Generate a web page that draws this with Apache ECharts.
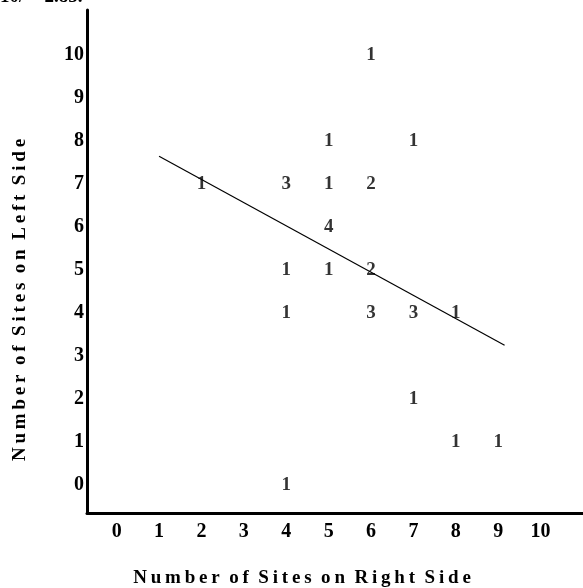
<!DOCTYPE html>
<html>
<head>
<meta charset="utf-8">
<script src="https://cdn.jsdelivr.net/npm/echarts@6/dist/echarts.min.js"></script>
<style>
  html, body { margin: 0; padding: 0; background: #fff; }
  #chart { width: 583px; height: 588px; }
</style>
</head>
<body>
<div id="chart"></div>
<script>
// counts of sites: [right side, left side, number of cases]
const cells = [
  [6, 10, 1],
  [5, 8, 1], [7, 8, 1],
  [2, 7, 1], [4, 7, 3], [5, 7, 1], [6, 7, 2],
  [5, 6, 4],
  [4, 5, 1], [5, 5, 1], [6, 5, 2],
  [4, 4, 1], [6, 4, 3], [7, 4, 3], [8, 4, 1],
  [7, 2, 1],
  [8, 1, 1], [9, 1, 1],
  [4, 0, 1]
];
// fitted line end points
const fitX = [1, 9.15];
const fitY = [7.65, 3.25];
const xTicks = [0, 1, 2, 3, 4, 5, 6, 7, 8, 9, 10];
const yTicks = [0, 1, 2, 3, 4, 5, 6, 7, 8, 9, 10];

const serif = '"Liberation Serif", "DejaVu Serif", serif';
const spaced = (s) => s.split(' ').map(w => w.split('').join('\u2009')).join('\u2002');

const chart = echarts.init(document.getElementById('chart'));
chart.setOption({
  animation: false,
  grid: { left: 87, right: 0, top: 10, bottom: 75 },
  xAxis: {
    type: 'value',
    min: -0.7,
    max: 11,
    axisLine: { show: true, onZero: false, lineStyle: { color: '#000', width: 3 } },
    axisTick: { show: false },
    splitLine: { show: false },
    axisLabel: {
      customValues: xTicks,
      margin: 9,
      color: '#000',
      fontFamily: serif,
      fontWeight: 'bold',
      fontSize: 20
    }
  },
  yAxis: {
    type: 'value',
    min: -0.65,
    max: 11.05,
    axisLine: { show: true, onZero: false, lineStyle: { color: '#000', width: 3 } },
    axisTick: { show: false },
    splitLine: { show: false },
    axisLabel: {
      customValues: yTicks,
      margin: 3,
      color: '#000',
      fontFamily: serif,
      fontWeight: 'bold',
      fontSize: 20
    }
  },
  series: [
    {
      type: 'line',
      data: fitX.map((x, i) => [x, fitY[i]]),
      symbol: 'none',
      lineStyle: { color: '#000', width: 1.2 },
      z: 1
    },
    {
      type: 'scatter',
      data: cells,
      symbolSize: 0,
      label: {
        show: true,
        position: 'inside',
        formatter: (p) => String(p.value[2]),
        color: '#000',
        fontFamily: serif,
        fontWeight: 'bold',
        fontSize: 19
      },
      z: 3
    }
  ],
  graphic: [
    {
      type: 'text',
      left: 0,
      top: -12,
      style: { text: '10/ = 2.85.', fill: '#000', font: 'bold 19px ' + serif }
    },
    {
      type: 'text',
      x: 20,
      y: 300,
      rotation: Math.PI / 2,
      style: {
        text: spaced('Number of Sites on Left Side'),
        fill: '#000',
        font: 'bold 19px ' + serif,
        align: 'center',
        verticalAlign: 'middle'
      }
    },
    {
      type: 'text',
      x: 302,
      y: 578,
      style: {
        text: spaced('Number of Sites on Right Side'),
        fill: '#000',
        font: 'bold 19px ' + serif,
        align: 'center',
        verticalAlign: 'middle'
      }
    }
  ]
});
</script>
</body>
</html>
